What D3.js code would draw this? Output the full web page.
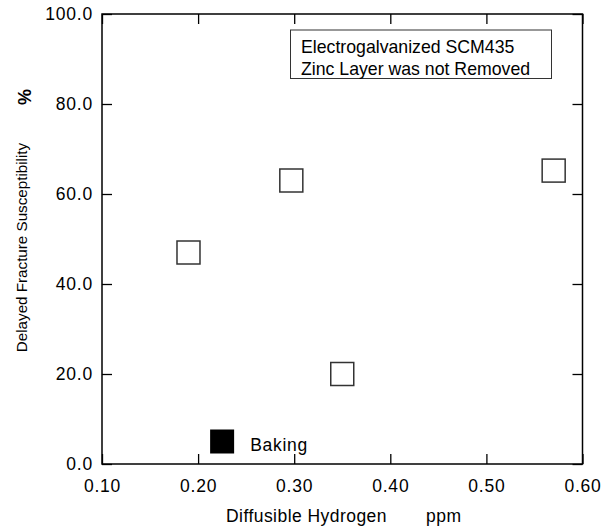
<!DOCTYPE html>
<html>
<head>
<meta charset="utf-8">
<script src="https://cdn.jsdelivr.net/npm/d3@7"></script>
<style>
  body { margin: 0; background: #fff; }
  svg text { font-family: "Liberation Sans", Arial, sans-serif; fill: #000; }
</style>
</head>
<body>
<svg id="chart"></svg>
<script>
// values
let hydrogen = [0.19, 0.297, 0.35, 0.57];
let susceptibility = [47, 63, 20, 65.2];
let bakingX = [0.225];
let bakingY = [5];
let xTicks = [0.1, 0.2, 0.3, 0.4, 0.5, 0.6];
let yTicks = [0, 20, 40, 60, 80, 100];
let noteLines = ["Electrogalvanized SCM435", "Zinc Layer was not Removed"];

let width = 616,
    height = 529;

let plotLeft = 102, plotRight = 582.5, plotTop = 14, plotBottom = 464;

let svg = d3.select("svg#chart")
    .attr("width", width)
    .attr("height", height);

let x = d3.scaleLinear().domain([0.1, 0.6]).range([plotLeft, plotRight]);
let y = d3.scaleLinear().domain([0, 100]).range([plotBottom, plotTop]);

let tickLen = 10;
let fontSize = 17.5;

// frame
svg.append("rect")
    .attr("x", plotLeft).attr("y", plotTop)
    .attr("width", plotRight - plotLeft).attr("height", plotBottom - plotTop)
    .attr("fill", "none")
    .attr("stroke", "#000")
    .attr("stroke-width", 1.5);

// inward ticks on all four sides
let axisB = svg.append("g")
    .attr("transform", `translate(0, ${plotBottom})`)
    .call(d3.axisBottom(x).tickValues(xTicks).tickSize(-tickLen).tickPadding(16).tickFormat(d3.format(".2f")));
let axisT = svg.append("g")
    .attr("transform", `translate(0, ${plotTop})`)
    .call(d3.axisTop(x).tickValues(xTicks).tickSize(-tickLen).tickFormat(""));
let axisL = svg.append("g")
    .attr("transform", `translate(${plotLeft}, 0)`)
    .call(d3.axisLeft(y).tickValues(yTicks).tickSize(-tickLen).tickPadding(9).tickFormat(d3.format(".1f")));
let axisR = svg.append("g")
    .attr("transform", `translate(${plotRight}, 0)`)
    .call(d3.axisRight(y).tickValues(yTicks).tickSize(-tickLen).tickFormat(""));

[axisB, axisT, axisL, axisR].forEach(g => {
    g.select(".domain").remove();
    g.selectAll(".tick line").attr("stroke", "#000").attr("stroke-width", 1.3);
    g.selectAll(".tick text")
        .attr("font-size", fontSize)
        .attr("letter-spacing", 0.8)
        .attr("font-family", "Liberation Sans, Arial, sans-serif");
});

// axis titles
svg.append("text")
    .attr("x", 226).attr("y", 521.5)
    .attr("font-size", fontSize)
    .attr("letter-spacing", 0.45)
    .text("Diffusible Hydrogen");
svg.append("text")
    .attr("x", 426).attr("y", 521.5)
    .attr("font-size", fontSize)
    .attr("letter-spacing", 0.5)
    .text("ppm");

svg.append("text")
    .attr("transform", "translate(26.5, 247.5) rotate(-90)")
    .attr("text-anchor", "middle")
    .attr("font-size", 15.2)
    .text("Delayed Fracture Susceptibility");
svg.append("text")
    .attr("transform", "translate(31, 97) rotate(-90)")
    .attr("text-anchor", "middle")
    .attr("font-size", 18)
    .attr("font-weight", "bold")
    .text("%");

// note box
let note = svg.append("g");
note.append("rect")
    .attr("x", 290.5).attr("y", 30)
    .attr("width", 261).attr("height", 48.5)
    .attr("fill", "#fff")
    .attr("stroke", "#333")
    .attr("stroke-width", 1);
note.selectAll("text")
    .data(noteLines)
    .enter().append("text")
    .attr("x", 301)
    .attr("y", (d, i) => 53 + i * 21.5)
    .attr("font-size", 17.7)
    .text(d => d);

// data squares
let side = 23;
svg.selectAll("rect.pt")
    .data(hydrogen)
    .enter().append("rect")
    .attr("class", "pt")
    .attr("x", (d, i) => x(d) - side / 2)
    .attr("y", (d, i) => y(susceptibility[i]) - side / 2)
    .attr("width", side).attr("height", side)
    .attr("fill", "#fff")
    .attr("stroke", "#333")
    .attr("stroke-width", 1.5);

// baking marker + label
svg.selectAll("rect.bake")
    .data(bakingX)
    .enter().append("rect")
    .attr("class", "bake")
    .attr("x", d => x(d) - 12)
    .attr("y", (d, i) => y(bakingY[i]) - 12)
    .attr("width", 24).attr("height", 24)
    .attr("fill", "#000");
svg.append("text")
    .attr("x", x(bakingX[0]) + 28)
    .attr("y", y(bakingY[0]) + 9)
    .attr("font-size", fontSize)
    .attr("letter-spacing", 0.7)
    .text("Baking");
</script>
</body>
</html>
